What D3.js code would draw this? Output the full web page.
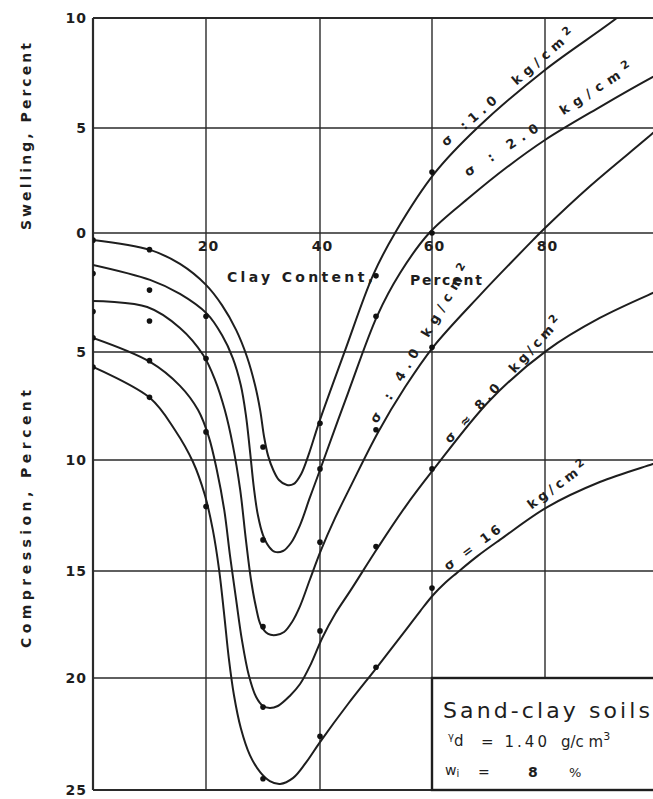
<!DOCTYPE html>
<html>
<head>
<meta charset="utf-8">
<script src="https://cdn.jsdelivr.net/npm/d3@7"></script>
<style>
  body { margin: 0; background: #fff; }
  svg text { font-family: "DejaVu Sans", "Liberation Sans", sans-serif; fill: #1e1e1e; white-space: pre; }
</style>
</head>
<body>
<svg id="chart" width="653" height="799"></svg>
<script>
// ---- Data -------------------------------------------------------------
// Clay content (%) ticks and labels
const clayTicks = [20, 40, 60, 80];
const clayTickLabels = ["20", "40", "60", "80"];
// Vertical axis: swelling positive, compression negative
const valueTicks = [10, 5, 0, -5, -10, -15, -20, -25];
const valueTickLabels = ["10", "5", "0", "5", "10", "15", "20", "25"];

// Applied pressure for each curve (kg/cm2)
const loads = ["1.0", "2.0", "4.0", "8.0", "16"];

// Clay contents of the tested mixtures
const testClay = [0, 10, 20, 30, 40, 50, 60];
// Measured volume change (%) at each clay content, one list per pressure
const tests_1 = [-0.3, -0.7, null, -9.4, -8.3, -1.8, 2.9];
const tests_2 = [-1.7, -2.4, -3.5, -13.6, -10.4, -3.5, 0.0];
const tests_4 = [-3.3, -3.7, -5.3, -17.6, -13.7, -8.6, -4.8];
const tests_8 = [-4.4, -5.4, -8.7, -21.3, -17.8, -13.9, -10.4];
const tests_16 = [-5.7, -7.1, -12.1, -24.5, -22.6, -19.5, -15.8];

// Fitted curves: [clay %, volume change %]
const curve_1 = [[0,-0.29],[10.1,-0.71],[15.4,-1.30],[20,-2.18],[22.8,-3.03],[25.3,-4.08],[27.2,-5.23],[28.6,-6.53],[29.5,-7.69],[30.2,-8.94],[30.9,-9.81],[31.8,-10.45],[32.8,-10.9],[34.2,-11.13],[35.4,-11.08],[36.7,-10.63],[38.1,-9.68],[39.8,-8.29],[44.5,-4.92],[49.5,-1.76],[53.4,0],[60.5,2.86],[68,5.0],[80,7.64],[92.7,10.0],[96.8,10.9]];
const curve_2 = [[0,-1.34],[10.1,-1.97],[15.4,-2.56],[20.2,-3.4],[22.8,-4.29],[24.7,-5.28],[26.1,-6.53],[27,-7.92],[27.7,-9.54],[28.4,-11.26],[29.1,-12.48],[30,-13.38],[31.1,-13.92],[32.1,-14.14],[33.5,-14.1],[34.9,-13.74],[36.5,-12.93],[38.2,-11.71],[40,-10.45],[45,-6.9],[50.2,-3.49],[54.3,-1.68],[59.5,0],[66.7,1.71],[73.3,3.14],[80,4.43],[89.7,5.95],[99.1,7.32],[101.2,7.6]];
const curve_4 = [[0,-2.86],[9.6,-3.11],[15.4,-3.99],[19.5,-5.14],[21.6,-6.3],[23.3,-7.69],[24.7,-9.31],[26,-11.35],[27,-13.6],[27.9,-15.42],[28.8,-16.73],[29.6,-17.52],[30.9,-17.94],[32.3,-17.99],[33.7,-17.85],[35.1,-17.38],[36.5,-16.64],[38.2,-15.42],[40.2,-14.05],[42.7,-12.61],[45.4,-11.22],[50.4,-8.7],[55.2,-6.62],[60.2,-4.79],[68.5,-2.61],[77.9,-0.29],[80,0.24],[88,2.24],[99.1,4.76],[101.2,5.27]];
const curve_8 = [[0,-4.41],[10.1,-5.46],[15.4,-6.57],[18.6,-7.69],[20.5,-8.94],[21.9,-10.45],[23.2,-12.25],[24.2,-14.28],[25.3,-16.36],[26.3,-18.22],[27.5,-19.86],[28.8,-20.85],[30,-21.25],[31.2,-21.34],[32.6,-21.25],[34.7,-20.8],[36.5,-20.27],[38.4,-19.35],[40.4,-18.13],[42.7,-17.01],[45.4,-15.93],[50.4,-13.92],[55.2,-12.12],[60.2,-10.45],[70.3,-7.22],[80.4,-4.92],[89.7,-3.57],[99.1,-2.52],[101.2,-2.31]];
const curve_16 = [[0,-5.69],[10.1,-7.13],[14.5,-8.61],[17.7,-10.09],[19.8,-11.58],[21.2,-13.15],[22.3,-14.95],[23.2,-17.06],[24,-19.07],[24.9,-20.76],[26.1,-22.23],[27.7,-23.44],[29.5,-24.2],[31.2,-24.6],[33,-24.73],[35.3,-24.46],[37.5,-23.79],[40,-22.86],[45,-21.16],[50.2,-19.49],[55.2,-17.8],[57.9,-16.87],[60.2,-16.12],[62.3,-15.56],[64.4,-15.09],[68.1,-14.32],[72,-13.6],[80.4,-12.12],[89.7,-10.99],[99.1,-10.18],[101.2,-10.0]];

const series = [
  { load: loads[0], tests: tests_1, curve: curve_1 },
  { load: loads[1], tests: tests_2, curve: curve_2 },
  { load: loads[2], tests: tests_4, curve: curve_4 },
  { load: loads[3], tests: tests_8, curve: curve_8 },
  { load: loads[4], tests: tests_16, curve: curve_16 }
];

// ---- Layout -----------------------------------------------------------
const svg = d3.select("#chart");
const ink = "#1e1e1e";

const x = d3.scaleLinear()
  .domain([0, 20, 40, 60, 80, 100])
  .range([93, 206, 320, 432, 545, 658]);
const y = d3.scaleLinear()
  .domain([10, 5, 0, -5, -10, -15, -20, -25])
  .range([18, 128, 233, 352, 460, 571, 678, 790]);

const plotLeft = x(0), plotRight = x(100), plotTop = y(10), plotBottom = y(-25);

svg.append("defs").append("clipPath").attr("id", "plotArea")
  .append("rect").attr("x", plotLeft).attr("y", plotTop)
  .attr("width", plotRight - plotLeft).attr("height", plotBottom - plotTop);

// Grid
const grid = svg.append("g").attr("stroke", "#2a2a2a").attr("stroke-width", 1.4);
grid.selectAll("line.h").data(valueTicks).join("line")
  .attr("x1", plotLeft).attr("x2", plotRight)
  .attr("y1", d => y(d)).attr("y2", d => y(d))
  .attr("stroke-width", d => (d === 10 || d === -25) ? 2.2 : 1.4);
grid.selectAll("line.v").data(clayTicks).join("line")
  .attr("x1", d => x(d)).attr("x2", d => x(d))
  .attr("y1", plotTop).attr("y2", plotBottom);
grid.append("line").attr("x1", plotLeft).attr("x2", plotLeft)
  .attr("y1", plotTop).attr("y2", plotBottom).attr("stroke-width", 2.2);

// Vertical axis labels
const yAxis = d3.axisLeft(y).tickValues(valueTicks).tickSize(0).tickPadding(6)
  .tickFormat((d, i) => valueTickLabels[i]);
const yAxisG = svg.append("g").attr("transform", `translate(${plotLeft},0)`).call(yAxis);
yAxisG.select(".domain").remove();
yAxisG.selectAll("text").attr("font-size", 14).attr("font-weight", "bold")
  .attr("letter-spacing", 1).attr("fill", ink)
  .attr("font-family", "DejaVu Sans, sans-serif");

// Clay content labels sit just under the zero line
const xAxis = d3.axisBottom(x).tickValues(clayTicks).tickSize(0).tickPadding(8)
  .tickFormat((d, i) => clayTickLabels[i]);
const xAxisG = svg.append("g").attr("transform", `translate(2,${y(0)})`).call(xAxis);
xAxisG.select(".domain").remove();
xAxisG.selectAll("text").attr("font-size", 14).attr("font-weight", "bold")
  .attr("letter-spacing", 1).attr("fill", ink)
  .attr("font-family", "DejaVu Sans, sans-serif");

// Axis titles
svg.append("text").attr("x", 227).attr("y", 282)
  .attr("font-size", 14).attr("font-weight", "bold").attr("textLength", 146)
  .attr("lengthAdjust", "spacing").text("Clay Content,");
svg.append("text").attr("x", 410).attr("y", 285)
  .attr("font-size", 14).attr("font-weight", "bold").attr("textLength", 72)
  .attr("lengthAdjust", "spacing").text("Percent");

svg.append("text").attr("transform", "translate(31,230) rotate(-90)")
  .attr("font-size", 14).attr("font-weight", "bold").attr("textLength", 187)
  .attr("lengthAdjust", "spacing").text("Swelling, Percent");
svg.append("text").attr("transform", "translate(31,648) rotate(-90)")
  .attr("font-size", 14).attr("font-weight", "bold").attr("textLength", 258)
  .attr("lengthAdjust", "spacing").text("Compression, Percent");

// Curves and test points
const line = d3.line()
  .x(d => x(d[0])).y(d => y(d[1]))
  .curve(d3.curveCatmullRom.alpha(0.5));

const plot = svg.append("g").attr("clip-path", "url(#plotArea)");
plot.selectAll("path.curve").data(series).join("path")
  .attr("class", "curve")
  .attr("d", d => line(d.curve))
  .attr("fill", "none").attr("stroke", ink).attr("stroke-width", 2)
  .attr("stroke-linejoin", "round");

series.forEach(s => {
  const pts = testClay.map((c, i) => [c, s.tests[i]]).filter(p => p[1] !== null);
  plot.selectAll(null).data(pts).join("circle")
    .attr("cx", d => x(d[0])).attr("cy", d => y(d[1]))
    .attr("r", 2.8).attr("fill", "#111");
});

// Pressure labels written along each curve
const curveLabels = [
  { pre: "σ :1.0  kg/cm", x0: 446, y0: 147, x1: 575, y1: 35 },
  { pre: "σ : 2.0  kg/cm", x0: 468, y0: 177, x1: 633, y1: 70 },
  { pre: "σ : 4.0 kg/cm", x0: 377, y0: 424, x1: 470, y1: 268 },
  { pre: "σ ≈ 8.0  kg/cm", x0: 450, y0: 444, x1: 562, y1: 322 },
  { pre: "σ = 16    kg/cm", x0: 448, y0: 571, x1: 588, y1: 468 }
];
curveLabels.forEach(l => {
  const ang = Math.atan2(l.y1 - l.y0, l.x1 - l.x0) * 180 / Math.PI;
  const len = Math.hypot(l.x1 - l.x0, l.y1 - l.y0);
  const t = svg.append("text")
    .attr("transform", `translate(${l.x0},${l.y0}) rotate(${ang})`)
    .attr("font-size", 13).attr("font-weight", "bold")
    .attr("textLength", len).attr("lengthAdjust", "spacing");
  t.append("tspan").text(l.pre);
  t.append("tspan").attr("dy", -5).attr("font-size", 11).text("2");
});

// Legend box with soil description
const box = svg.append("g");
box.append("rect")
  .attr("x", x(60)).attr("y", y(-20))
  .attr("width", plotRight - x(60) + 10).attr("height", plotBottom - y(-20))
  .attr("fill", "#fff").attr("stroke", ink).attr("stroke-width", 2.4);
box.append("text").attr("x", 443).attr("y", 718)
  .attr("font-size", 22).attr("textLength", 207).attr("lengthAdjust", "spacing")
  .text("Sand-clay soils");
const l2 = box.append("text").attr("x", 448).attr("y", 746).attr("font-size", 15);
l2.append("tspan").attr("font-size", 10).attr("dy", -6).text("γ");
l2.append("tspan").attr("dy", 6).text("d");
box.append("text").attr("x", 481).attr("y", 747).attr("font-size", 15)
  .attr("textLength", 66).attr("lengthAdjust", "spacing").text("= 1.40");
const l2b = box.append("text").attr("x", 561).attr("y", 747).attr("font-size", 15);
l2b.append("tspan").text("g/c m");
l2b.append("tspan").attr("dy", -7).attr("font-size", 11).text("3");
const l3 = box.append("text").attr("x", 445).attr("y", 775).attr("font-size", 14);
l3.append("tspan").text("w");
l3.append("tspan").attr("font-size", 10).attr("dy", 2).text("i");
box.append("text").attr("x", 478).attr("y", 777).attr("font-size", 14).text("=");
box.append("text").attr("x", 528).attr("y", 777).attr("font-size", 14).attr("font-weight", "bold").text("8");
box.append("text").attr("x", 569).attr("y", 777).attr("font-size", 13).text("%");
</script>
</body>
</html>
